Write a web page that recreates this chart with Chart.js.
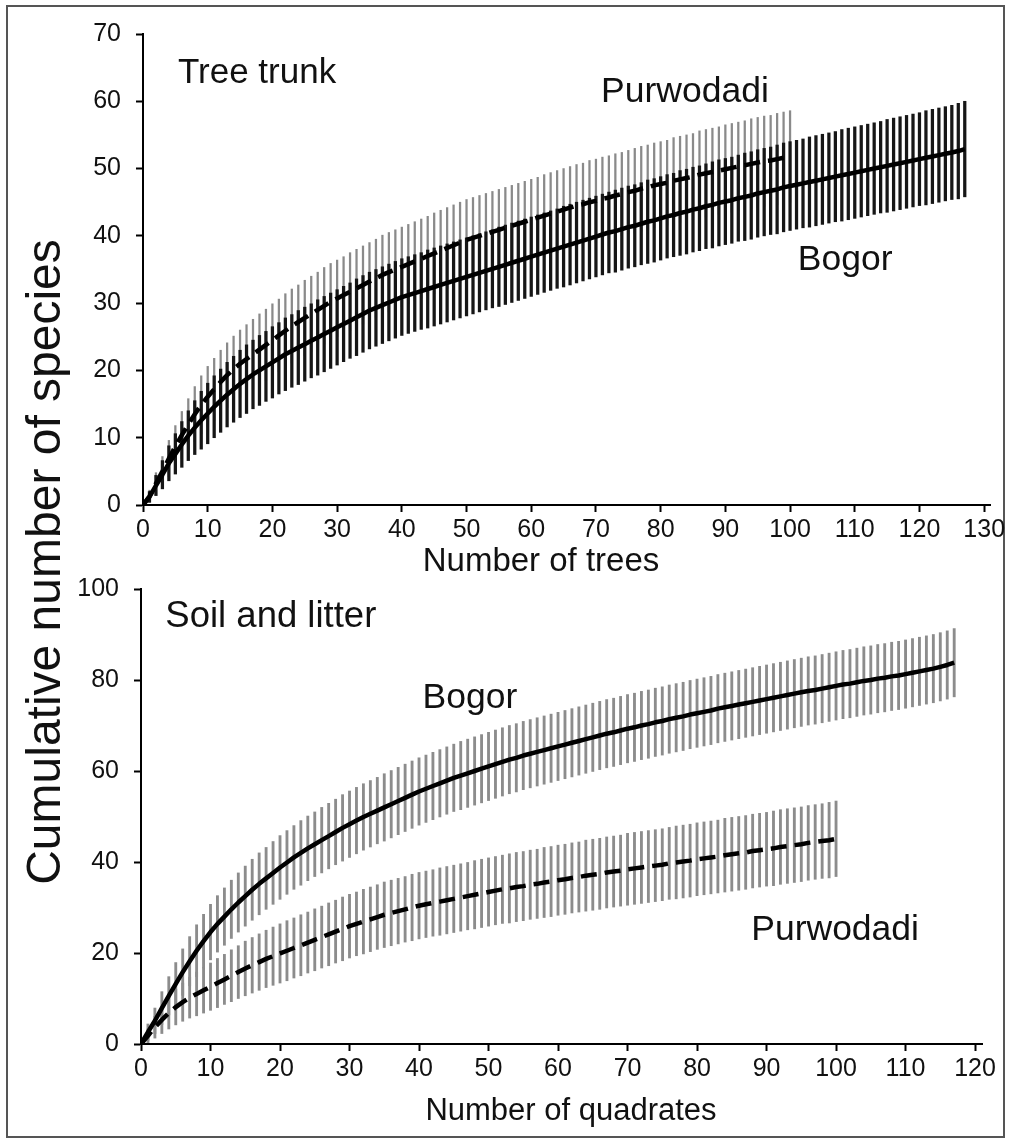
<!DOCTYPE html>
<html>
<head>
<meta charset="utf-8">
<script src="https://cdn.jsdelivr.net/npm/chart.js@4.4.1/dist/chart.umd.min.js"></script>
<style>
    html, body { margin: 0; padding: 0; background: #fff; }
    #page { position: relative; width: 1011px; height: 1142px; overflow: hidden; background: #fff; }
    #page canvas { position: absolute; left: 0; top: 0; }
    #frame { position: absolute; left: 6px; top: 5px; width: 995px; height: 1129px; border: 2px solid #555; }
</style>
</head>
<body>
<div id="page">
    <div id="frame"></div>
    <canvas id="treeChart" width="1011" height="1142"></canvas>
    <canvas id="soilChart" width="1011" height="1142"></canvas>
</div>
<script>
// ---- data, index = number of samples (0 = origin) ----
var treeBogorMean = [0,
    1.2, 2.9, 4.5, 6.2, 7.6, 9.0, 10.3, 11.5, 12.6, 13.6,
    14.6, 15.5, 16.4, 17.2, 18.0, 18.7, 19.4, 20.0, 20.6, 21.2,
    21.8, 22.4, 22.9, 23.4, 23.9, 24.4, 24.9, 25.4, 25.9, 26.4,
    26.9, 27.4, 27.9, 28.4, 28.9, 29.3, 29.7, 30.1, 30.5, 30.9,
    31.2, 31.5, 31.8, 32.1, 32.4, 32.7, 33.0, 33.3, 33.6, 33.9,
    34.2, 34.5, 34.8, 35.1, 35.4, 35.7, 36.0, 36.3, 36.6, 36.9,
    37.2, 37.5, 37.8, 38.1, 38.4, 38.7, 39.0, 39.3, 39.6, 39.9,
    40.2, 40.5, 40.7, 41.0, 41.3, 41.5, 41.8, 42.1, 42.3, 42.6,
    42.9, 43.1, 43.4, 43.6, 43.9, 44.1, 44.4, 44.6, 44.9, 45.1,
    45.3, 45.6, 45.8, 46.0, 46.3, 46.5, 46.7, 46.9, 47.2, 47.4,
    47.6, 47.8, 48.0, 48.2, 48.4, 48.6, 48.8, 49.0, 49.2, 49.4,
    49.6, 49.8, 50.0, 50.2, 50.4, 50.6, 50.8, 51.0, 51.2, 51.4,
    51.6, 51.8, 52.0, 52.2, 52.4, 52.6, 52.9];
var treeBogorErr = [0,
    0.8, 1.5, 2.1, 2.6, 3.0, 3.4, 3.7, 4.0, 4.3, 4.5,
    4.6, 4.7, 4.8, 4.9, 5.0, 5.1, 5.1, 5.2, 5.2, 5.3,
    5.3, 5.4, 5.4, 5.5, 5.5, 5.5, 5.6, 5.6, 5.6, 5.6,
    5.6, 5.6, 5.7, 5.7, 5.7, 5.7, 5.7, 5.7, 5.7, 5.7,
    5.7, 5.7, 5.7, 5.8, 5.8, 5.8, 5.8, 5.8, 5.8, 5.8,
    5.8, 5.8, 5.8, 5.8, 5.9, 5.9, 5.9, 5.9, 5.9, 5.9,
    5.9, 5.9, 5.9, 5.9, 6.0, 6.0, 6.0, 6.0, 6.0, 6.0,
    6.0, 6.0, 6.1, 6.1, 6.1, 6.1, 6.1, 6.2, 6.2, 6.2,
    6.2, 6.2, 6.3, 6.3, 6.3, 6.3, 6.3, 6.4, 6.4, 6.4,
    6.4, 6.4, 6.5, 6.5, 6.5, 6.5, 6.5, 6.6, 6.6, 6.6,
    6.6, 6.6, 6.7, 6.7, 6.7, 6.7, 6.7, 6.8, 6.8, 6.8,
    6.8, 6.8, 6.8, 6.8, 6.9, 6.9, 6.9, 6.9, 6.9, 6.9,
    7.0, 7.0, 7.0, 7.0, 7.0, 7.1, 7.1];
var treePurwMean = [0,
    1.3, 3.2, 5.0, 6.9, 8.7, 10.4, 12.0, 13.5, 14.9, 16.1,
    17.2, 18.3, 19.3, 20.2, 21.0, 21.7, 22.4, 23.1, 23.8, 24.5,
    25.2, 25.9, 26.6, 27.2, 27.8, 28.4, 29.0, 29.6, 30.2, 30.7,
    31.2, 31.7, 32.2, 32.7, 33.2, 33.7, 34.2, 34.6, 35.0, 35.4,
    35.8, 36.2, 36.6, 37.0, 37.4, 37.8, 38.2, 38.6, 39.0, 39.4,
    39.7, 40.0, 40.3, 40.6, 40.9, 41.2, 41.5, 41.8, 42.1, 42.4,
    42.7, 43.0, 43.3, 43.6, 43.9, 44.2, 44.5, 44.7, 45.0, 45.2,
    45.5, 45.7, 46.0, 46.2, 46.5, 46.7, 47.0, 47.2, 47.5, 47.7,
    47.9, 48.2, 48.4, 48.6, 48.8, 49.1, 49.3, 49.5, 49.7, 49.9,
    50.1, 50.3, 50.5, 50.7, 50.9, 51.1, 51.2, 51.4, 51.6, 51.8];
var treePurwErr = [0,
    0.9, 1.6, 2.2, 2.7, 3.1, 3.5, 3.8, 4.1, 4.3, 4.5,
    4.6, 4.7, 4.8, 4.9, 5.0, 5.1, 5.2, 5.3, 5.3, 5.4,
    5.4, 5.5, 5.5, 5.5, 5.6, 5.6, 5.6, 5.7, 5.7, 5.7,
    5.7, 5.8, 5.8, 5.8, 5.8, 5.8, 5.9, 5.9, 5.9, 5.9,
    5.9, 5.9, 5.9, 5.9, 6.0, 6.0, 6.0, 6.0, 6.0, 6.0,
    6.0, 6.0, 6.0, 6.0, 6.0, 6.0, 6.0, 6.0, 6.0, 6.0,
    6.0, 6.1, 6.1, 6.1, 6.1, 6.1, 6.1, 6.1, 6.2, 6.2,
    6.2, 6.2, 6.2, 6.2, 6.2, 6.3, 6.3, 6.3, 6.3, 6.3,
    6.3, 6.4, 6.4, 6.4, 6.4, 6.5, 6.5, 6.5, 6.5, 6.6,
    6.6, 6.6, 6.6, 6.7, 6.7, 6.7, 6.7, 6.8, 6.8, 6.8];

var soilBogorMean = [0,
    2.6, 5.1, 7.9, 10.6, 13.2, 15.8, 18.2, 20.5, 22.6, 24.6,
    26.4, 28.0, 29.6, 31.1, 32.5, 33.9, 35.2, 36.4, 37.6, 38.8,
    39.9, 41.0, 42.0, 43.0, 43.9, 44.8, 45.7, 46.6, 47.5, 48.3,
    49.1, 49.9, 50.6, 51.3, 52.0, 52.7, 53.4, 54.1, 54.8, 55.5,
    56.1, 56.7, 57.3, 57.9, 58.5, 59.0, 59.5, 60.0, 60.5, 61.0,
    61.5, 62.0, 62.5, 62.9, 63.4, 63.8, 64.2, 64.6, 65.0, 65.4,
    65.8, 66.2, 66.6, 67.0, 67.4, 67.8, 68.2, 68.5, 68.9, 69.3,
    69.6, 70.0, 70.3, 70.7, 71.0, 71.4, 71.7, 72.0, 72.4, 72.7,
    73.0, 73.3, 73.7, 74.0, 74.3, 74.6, 74.9, 75.2, 75.5, 75.8,
    76.1, 76.4, 76.7, 77.0, 77.3, 77.6, 77.8, 78.1, 78.4, 78.7,
    79.0, 79.2, 79.5, 79.8, 80.0, 80.3, 80.5, 80.8, 81.0, 81.3,
    81.6, 81.9, 82.2, 82.5, 82.9, 83.3, 83.8];
var soilBogorErr = [0,
    1.8, 2.8, 3.6, 4.2, 4.7, 5.1, 5.4, 5.7, 5.9, 6.1,
    6.2, 6.3, 6.4, 6.5, 6.6, 6.7, 6.8, 6.8, 6.9, 7.0,
    7.0, 7.0, 7.1, 7.1, 7.1, 7.2, 7.2, 7.2, 7.3, 7.3,
    7.3, 7.3, 7.3, 7.3, 7.4, 7.4, 7.4, 7.4, 7.4, 7.4,
    7.4, 7.4, 7.4, 7.4, 7.4, 7.5, 7.5, 7.5, 7.5, 7.5,
    7.5, 7.5, 7.5, 7.5, 7.5, 7.5, 7.5, 7.5, 7.5, 7.5,
    7.5, 7.5, 7.5, 7.5, 7.5, 7.5, 7.5, 7.5, 7.5, 7.5,
    7.5, 7.5, 7.5, 7.5, 7.5, 7.5, 7.5, 7.5, 7.5, 7.5,
    7.5, 7.5, 7.5, 7.5, 7.5, 7.5, 7.5, 7.5, 7.5, 7.5,
    7.5, 7.5, 7.5, 7.5, 7.5, 7.5, 7.5, 7.5, 7.5, 7.5,
    7.5, 7.5, 7.5, 7.5, 7.5, 7.5, 7.5, 7.5, 7.5, 7.5,
    7.5, 7.5, 7.5, 7.5, 7.5, 7.5, 7.5];
var soilPurwMean = [0,
    1.8, 3.7, 5.3, 6.8, 8.1, 9.2, 10.2, 11.0, 11.8, 12.6,
    13.4, 14.2, 15.0, 15.8, 16.6, 17.3, 18.0, 18.7, 19.3, 19.9,
    20.5, 21.1, 21.7, 22.3, 22.9, 23.5, 24.1, 24.7, 25.3, 25.9,
    26.4, 26.9, 27.4, 27.9, 28.4, 28.8, 29.2, 29.6, 30.0, 30.4,
    30.7, 31.0, 31.3, 31.6, 31.9, 32.2, 32.5, 32.8, 33.1, 33.4,
    33.7, 34.0, 34.2, 34.5, 34.7, 35.0, 35.2, 35.5, 35.7, 36.0,
    36.2, 36.5, 36.7, 37.0, 37.2, 37.4, 37.7, 37.9, 38.1, 38.4,
    38.6, 38.8, 39.0, 39.2, 39.4, 39.7, 39.9, 40.1, 40.3, 40.6,
    40.8, 41.0, 41.2, 41.5, 41.7, 41.9, 42.1, 42.4, 42.6, 42.8,
    43.0, 43.3, 43.5, 43.7, 43.9, 44.2, 44.4, 44.6, 44.8, 45.1];
var soilPurwErr = [0,
    1.5, 2.4, 3.0, 3.5, 3.9, 4.2, 4.5, 4.8, 5.0, 5.2,
    5.4, 5.5, 5.7, 5.8, 6.0, 6.1, 6.2, 6.3, 6.4, 6.5,
    6.6, 6.6, 6.7, 6.7, 6.8, 6.8, 6.9, 6.9, 7.0, 7.0,
    7.0, 7.1, 7.1, 7.1, 7.2, 7.2, 7.2, 7.2, 7.3, 7.3,
    7.3, 7.3, 7.4, 7.4, 7.4, 7.4, 7.4, 7.5, 7.5, 7.5,
    7.5, 7.5, 7.6, 7.6, 7.6, 7.6, 7.6, 7.7, 7.7, 7.7,
    7.7, 7.7, 7.7, 7.8, 7.8, 7.8, 7.8, 7.8, 7.8, 7.9,
    7.9, 7.9, 7.9, 7.9, 7.9, 7.9, 8.0, 8.0, 8.0, 8.0,
    8.0, 8.0, 8.0, 8.1, 8.1, 8.1, 8.1, 8.1, 8.1, 8.1,
    8.2, 8.2, 8.2, 8.2, 8.2, 8.2, 8.2, 8.2, 8.3, 8.3];

var treeXTicks = [0, 130, 10];   // first tick, last tick, step
var treeYTicks = [0, 70, 10];
var soilXTicks = [0, 120, 10];
var soilYTicks = [0, 100, 20];

var FONT = '"Liberation Sans", Arial, Helvetica, sans-serif';
var INK = '#111';

function meanPoints(means) {
    return means.map(function(m, i) { return { x: i, y: m }; });
}

function errPoints(means, errs) {
    var pts = [];
    means.forEach(function(m, i) {
        if (errs[i] > 0) pts.push({ x: i, y: [m - errs[i], m + errs[i]] });
    });
    return pts;
}

// in-plot labels (data coords) and page labels (pixel coords)
var textPlugin = {
    id: 'panelText',
    afterDatasetsDraw: function(chart, args, opts) {
        var ctx = chart.ctx;
        var xs = chart.scales.x, ys = chart.scales.y;
        (opts.items || []).forEach(function(t) {
            var px = t.px != null ? t.px : xs.getPixelForValue(t.x);
            var py = t.py != null ? t.py : ys.getPixelForValue(t.y);
            ctx.save();
            ctx.fillStyle = INK;
            ctx.font = t.size + 'px ' + FONT;
            ctx.textAlign = t.align || 'left';
            ctx.textBaseline = 'alphabetic';
            ctx.translate(px, py);
            if (t.rotate) ctx.rotate(-Math.PI / 2);
            ctx.fillText(t.text, 0, 0);
            ctx.restore();
        });
    }
};

function axis(range, axisMax, pad, afterFit) {
    return {
        type: 'linear',
        min: range[0],
        max: axisMax,
        offset: false,
        afterFit: afterFit,
        ticks: {
            stepSize: range[2],
            includeBounds: false,
            autoSkip: false,
            maxRotation: 0,
            padding: pad,
            color: INK,
            font: { family: FONT, size: 25 }
        },
        grid: {
            display: true,
            drawOnChartArea: false,
            drawTicks: true,
            tickLength: 7,
            tickWidth: 2,
            tickColor: '#000',
            offset: false
        },
        border: { display: true, color: '#000', width: 2 }
    };
}

function makeChart(id, cfg) {
    return new Chart(document.getElementById(id), {
        type: 'line',
        data: { datasets: cfg.datasets },
        options: {
            responsive: false,
            animation: false,
            devicePixelRatio: 1,
            layout: { padding: cfg.padding },
            plugins: {
                legend: { display: false },
                tooltip: { enabled: false },
                panelText: { items: cfg.texts }
            },
            scales: {
                x: axis(cfg.xTicks, cfg.xAxisEnd, 3, function(s) { s.height = cfg.xHeight; }),
                y: axis(cfg.yTicks, cfg.yTicks[1], 15, function(s) { s.width = cfg.yWidth; })
            }
        },
        plugins: [textPlugin]
    });
}

makeChart('treeChart', {
    padding: { left: 0, top: 34, right: 21, bottom: 562 },
    xHeight: 75,
    yWidth: 143,
    xTicks: treeXTicks,
    xAxisEnd: 130.9,
    yTicks: treeYTicks,
    datasets: [
        { type: 'line', data: meanPoints(treeBogorMean), borderColor: '#000', borderWidth: 4.5,
          pointRadius: 0, tension: 0, fill: false, borderJoinStyle: 'round', order: 0 },
        { type: 'line', data: meanPoints(treePurwMean), borderColor: '#000', borderWidth: 4.5,
          borderDash: [16, 8], pointRadius: 0, tension: 0, fill: false, order: 1 },
        { type: 'bar', data: errPoints(treeBogorMean, treeBogorErr), backgroundColor: '#161616',
          borderWidth: 0, barThickness: 2.6, grouped: false, order: 2 },
        { type: 'bar', data: errPoints(treePurwMean, treePurwErr), backgroundColor: '#8a8a8a',
          borderWidth: 0, barThickness: 1.6, grouped: false, order: 3 }
    ],
    texts: [
        { text: 'Tree trunk', x: 5.4, y: 62.7, size: 35 },
        { text: 'Purwodadi', x: 70.8, y: 59.9, size: 35.5 },
        { text: 'Bogor', x: 101.2, y: 34.9, size: 35.5 },
        { text: 'Number of trees', px: 541, py: 571, size: 33, align: 'center' },
        { text: 'Cumulative number of species', px: 60, py: 562, size: 48, align: 'center', rotate: true }
    ]
});

makeChart('soilChart', {
    padding: { left: 0, top: 589, right: 29, bottom: 0 },
    xHeight: 98,
    yWidth: 141,
    xTicks: soilXTicks,
    xAxisEnd: 121,
    yTicks: soilYTicks,
    datasets: [
        { type: 'line', data: meanPoints(soilBogorMean), borderColor: '#000', borderWidth: 4.5,
          pointRadius: 0, tension: 0, fill: false, borderJoinStyle: 'round', order: 0 },
        { type: 'line', data: meanPoints(soilPurwMean), borderColor: '#000', borderWidth: 4.5,
          borderDash: [16, 8], pointRadius: 0, tension: 0, fill: false, order: 1 },
        { type: 'bar', data: errPoints(soilBogorMean, soilBogorErr), backgroundColor: '#8c8c8c',
          borderWidth: 0, barThickness: 2.2, grouped: false, order: 2 },
        { type: 'bar', data: errPoints(soilPurwMean, soilPurwErr), backgroundColor: '#8c8c8c',
          borderWidth: 0, barThickness: 2.2, grouped: false, order: 3 }
    ],
    texts: [
        { text: 'Soil and litter', x: 3.5, y: 91.6, size: 36.5 },
        { text: 'Bogor', x: 40.5, y: 73.8, size: 35.5 },
        { text: 'Purwodadi', x: 87.8, y: 22.9, size: 35.5 },
        { text: 'Number of quadrates', px: 571, py: 1120, size: 31, align: 'center' }
    ]
});
</script>
</body>
</html>
